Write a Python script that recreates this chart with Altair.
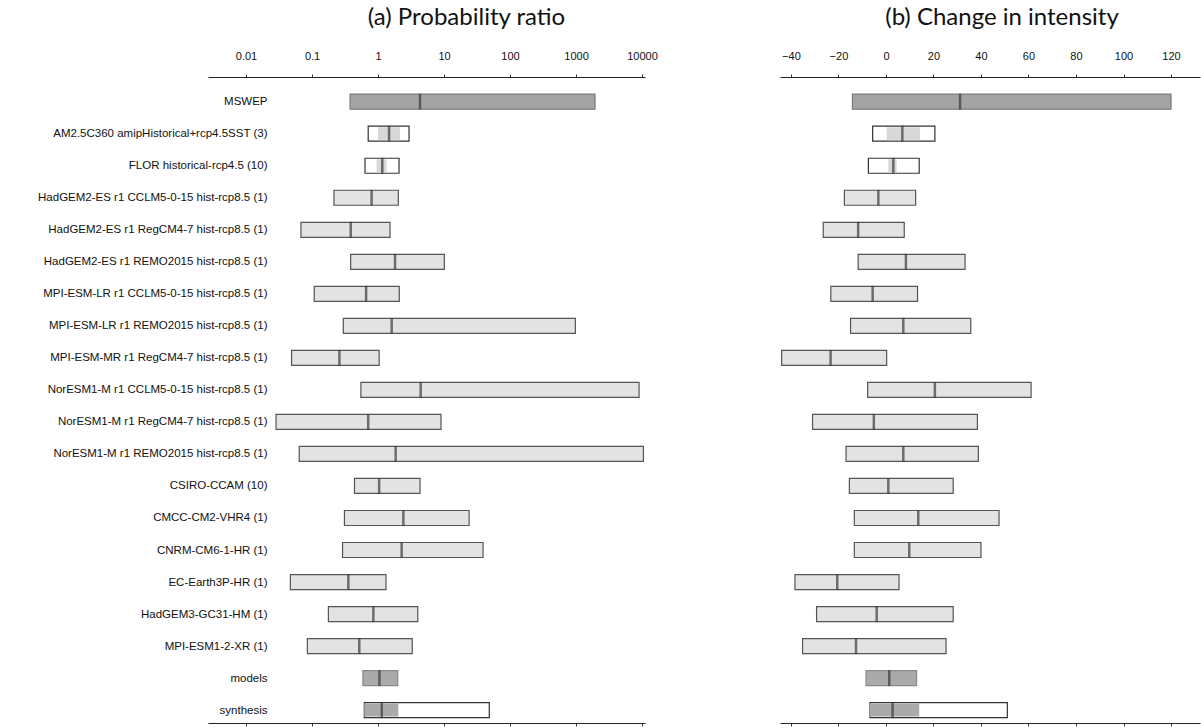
import json
import altair as alt
import pandas as pd

# ---------------- data ----------------
names = [
    "MSWEP",
    "AM2.5C360 amipHistorical+rcp4.5SST (3)",
    "FLOR historical-rcp4.5 (10)",
    "HadGEM2-ES r1 CCLM5-0-15 hist-rcp8.5 (1)",
    "HadGEM2-ES r1 RegCM4-7 hist-rcp8.5 (1)",
    "HadGEM2-ES r1 REMO2015 hist-rcp8.5 (1)",
    "MPI-ESM-LR r1 CCLM5-0-15 hist-rcp8.5 (1)",
    "MPI-ESM-LR r1 REMO2015 hist-rcp8.5 (1)",
    "MPI-ESM-MR r1 RegCM4-7 hist-rcp8.5 (1)",
    "NorESM1-M r1 CCLM5-0-15 hist-rcp8.5 (1)",
    "NorESM1-M r1 RegCM4-7 hist-rcp8.5 (1)",
    "NorESM1-M r1 REMO2015 hist-rcp8.5 (1)",
    "CSIRO-CCAM (10)",
    "CMCC-CM2-VHR4 (1)",
    "CNRM-CM6-1-HR (1)",
    "EC-Earth3P-HR (1)",
    "HadGEM3-GC31-HM (1)",
    "MPI-ESM1-2-XR (1)",
    "models",
    "synthesis",
]
kinds = ["obs", "ens", "ens"] + ["model"] * 15 + ["models", "synth"]

# (a) probability ratio
pr_lo = [0.377, 0.71, 0.635, 0.215, 0.068, 0.385, 0.108, 0.298, 0.049, 0.55,
         0.0285, 0.064, 0.44, 0.31, 0.29, 0.047, 0.177, 0.085, 0.59, 0.62]
pr_hi = [1940, 2.95, 2.08, 2.03, 1.52, 10.1, 2.1, 977, 1.04, 9020,
         9.0, 10500, 4.33, 24, 39, 1.32, 4.0, 3.3, 1.99, 48.5]
pr_best = [4.33, 1.47, 1.16, 0.80, 0.386, 1.81, 0.66, 1.61, 0.26, 4.43,
           0.71, 1.85, 1.04, 2.42, 2.28, 0.355, 0.85, 0.52, 1.05, 1.14]
pr_in_lo = [None, 1.0, 0.95] + [None] * 16 + [0.62]
pr_in_hi = [None, 2.15, 1.35] + [None] * 16 + [2.03]

# (b) change in intensity (%)
di_lo = [-14.1, -5.6, -7.4, -17.5, -26.4, -11.7, -23.2, -14.9, -43.9, -7.7,
         -30.9, -16.8, -15.4, -13.3, -13.3, -38.3, -29.2, -35.1, -8.4, -6.7]
di_hi = [120, 20.6, 14.0, 12.5, 7.7, 33.3, 13.3, 35.7, 0.3, 61.1,
         38.5, 38.9, 28.3, 47.6, 40.0, 5.5, 28.3, 25.3, 12.9, 51.1]
di_best = [31.2, 6.9, 3.1, -3.2, -11.7, 8.4, -5.6, 7.3, -23.3, 20.6,
           -5.1, 7.3, 1.0, 13.6, 9.8, -20.5, -3.9, -12.6, 1.4, 2.8]
di_in_lo = [None, 0.3, 1.0] + [None] * 16 + [-6.7]
di_in_hi = [None, 14.3, 4.5] + [None] * 16 + [14.0]

pr_ticks = [0.01, 0.1, 1, 10, 100, 1000, 10000]
di_ticks = [-40, -20, 0, 20, 40, 60, 80, 100, 120]

kind_order = ["obs", "ens", "model", "models", "synth"]
fill_colors = ["#a4a4a4", "#ffffff", "#e3e3e3", "#aaaaaa", "#ffffff"]
stroke_colors = ["#7a7a7a", "#333333", "#555555", "#8a8a8a", "#333333"]

FONT = "Liberation Sans, Arial, Helvetica, sans-serif"
ROW_DOMAIN = [-0.615, 19.246]


def panel(lo, hi, best, in_lo, in_hi, xscale, ticks, fmt, title, title_dx, width, show_labels):
    df = pd.DataFrame({
        "row": list(range(len(names))),
        "name": names,
        "kind": kinds,
        "lo": lo, "hi": hi, "best": best,
        "in_lo": in_lo, "in_hi": in_hi,
    })
    inner = df.dropna(subset=["in_lo", "in_hi"]).copy()
    inner["ifill"] = inner["kind"].map({"ens": "#d8d8d8", "synth": "#aaaaaa"})

    if show_labels:
        label_expr = json.dumps(names) + "[datum.value]"
        yaxis = alt.Axis(values=list(range(len(names))), labelExpr=label_expr,
                         orient="left", offset=-59, domain=False, ticks=False,
                         tickSize=0, labelPadding=0, grid=False, title=None,
                         labelOverlap=False, labelLimit=0, labelBound=False,
                         labelFont=FONT, labelFontSize=11.5, labelColor="#111")
    else:
        yaxis = None
    yscale = alt.Scale(domain=ROW_DOMAIN, reverse=True, nice=False, zero=False)

    top_axis = alt.Axis(orient="top", values=ticks, format=fmt, grid=False, title=None,
                        labelFont=FONT, labelFontSize=11, labelColor="#111",
                        tickSize=3, tickColor="#333", domainColor="#222",
                        labelPadding=13, labelFlush=False, labelOverlap=False)
    bot_axis = alt.Axis(orient="bottom", values=ticks, labels=False, grid=False, title=None,
                        tickSize=3, tickColor="#333", domainColor="#222")

    boxes = alt.Chart(df).mark_bar(size=15, strokeWidth=1.2).encode(
        x=alt.X("lo:Q", scale=xscale, axis=top_axis),
        x2="hi:Q",
        y=alt.Y("row:Q", scale=yscale, axis=yaxis),
        fill=alt.Fill("kind:N", scale=alt.Scale(domain=kind_order, range=fill_colors), legend=None),
        stroke=alt.Stroke("kind:N", scale=alt.Scale(domain=kind_order, range=stroke_colors), legend=None),
    )
    inner_bars = alt.Chart(inner).mark_bar(size=13).encode(
        x=alt.X("in_lo:Q", scale=xscale, axis=bot_axis),
        x2="in_hi:Q",
        y=alt.Y("row:Q", scale=yscale, axis=None),
        fill=alt.Fill("ifill:N", scale=None, legend=None),
    )
    best_ticks = alt.Chart(df).mark_tick(orient="vertical", size=16, thickness=2.5,
                                         color="#3a3a3a").encode(
        x=alt.X("best:Q", scale=xscale, axis=None),
        y=alt.Y("row:Q", scale=yscale, axis=None),
    )
    return alt.layer(boxes, inner_bars, best_ticks).resolve_axis(
        x="independent", y="independent"
    ).properties(
        width=width, height=646,
        title=alt.TitleParams(title, fontSize=24, font="Lato", fontWeight="normal",
                              color="#111", anchor="middle", dx=title_dx, offset=20),
    )


left = panel(pr_lo, pr_hi, pr_best, pr_in_lo, pr_in_hi,
             alt.Scale(type="log", domain=[10 ** -2.576, 10 ** 4.045], nice=False),
             pr_ticks, "~g", "(a) Probability ratio", 40, 437, True)
right = panel(di_lo, di_hi, di_best, di_in_lo, di_in_hi,
              alt.Scale(domain=[-44.6, 132.2], nice=False, zero=False),
              di_ticks, "d", "(b) Change in intensity", 12, 420, False)

chart = alt.hconcat(left, right, spacing=135, bounds="flush").properties(
    padding={"left": 37, "right": 1, "top": 6, "bottom": 0},
    background="white",
).configure_view(stroke=None)

chart.save("out.html", embed_options={"renderer": "svg", "actions": False})
